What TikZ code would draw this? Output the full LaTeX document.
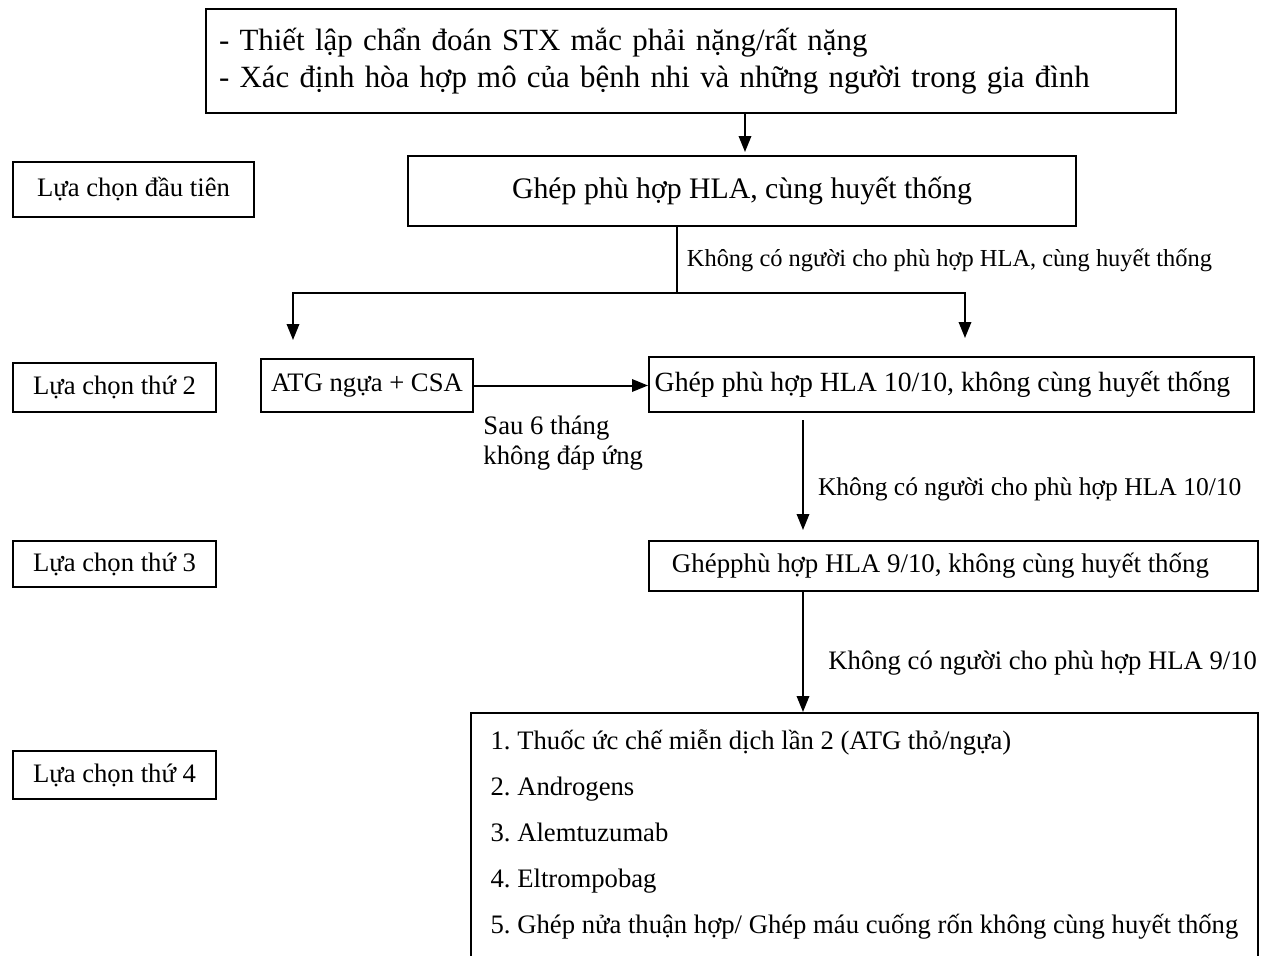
\documentclass[tikz,border=0pt]{standalone}
\usepackage{fontspec}
\setmainfont{Liberation Serif}
\usetikzlibrary{arrows.meta}

\newlength{\px}
\setlength{\px}{0.45pt}

\tikzset{
	khung/.style={draw, line width=0.9pt, inner sep=0pt, anchor=north west, align=center, font=\fontsize{12}{14}\selectfont},
	duong/.style={line width=0.9pt},
	muiten/.style={duong, -{Triangle[length=7.2pt, width=5.6pt]}},
	nhanphu/.style={inner sep=0pt, anchor=west, font=\fontsize{12}{14}\selectfont},
}

\begin{document}
\frenchspacing
\begin{tikzpicture}[x=0.45pt,y=-0.45pt]%
	\useasboundingbox (0,0) rectangle (1267,956);
	\node[khung, minimum width=970\px, minimum height=104\px, text width=944\px, inner xsep=13\px, align=left, font=\fontsize{13.9}{16.5}\selectfont] (khoi0) at (205,8) {- Thiết lập chẩn đoán STX mắc phải nặng/rất nặng\\- Xác định hòa hợp mô của bệnh nhi và những người trong gia đình};
	\node[khung, minimum width=668\px, minimum height=70\px, font=\fontsize{13.4}{16}\selectfont] (khoi1) at (407,155) {Ghép phù hợp HLA, cùng huyết thống};
	\node[khung, minimum width=241\px, minimum height=55\px] (chon1) at (12,161) {Lựa chọn đầu tiên};
	\node[khung, minimum width=212\px, minimum height=53\px] (atg) at (260,358) {ATG ngựa + CSA};
	\node[khung, minimum width=605\px, minimum height=55\px, font=\fontsize{12.5}{15}\selectfont] (khoi2) at (648,356) {Ghép phù hợp HLA 10/10, không cùng huyết thống\hspace*{18\px}};
	\node[khung, minimum width=203\px, minimum height=49\px] (chon2) at (12,362) {Lựa chọn thứ 2};
	\node[khung, minimum width=609\px, minimum height=50\px, font=\fontsize{12.1}{14}\selectfont] (khoi3) at (648,540) {Ghépphù hợp HLA 9/10, không cùng huyết thống\hspace*{26\px}};
	\node[khung, minimum width=203\px, minimum height=46\px] (chon3) at (12,540) {Lựa chọn thứ 3};
	\node[khung, minimum width=787\px, inner ysep=17\px, align=left, font=\fontsize{12}{20.7}\selectfont] (khoi4) at (470,712) {1. Thuốc ức chế miễn dịch lần 2 (ATG thỏ/ngựa)\\2. Androgens\\3. Alemtuzumab\\4. Eltrompobag\\5. Ghép nửa thuận hợp/ Ghép máu cuống rốn không cùng huyết thống\\\mbox{}};
	\node[khung, minimum width=203\px, minimum height=48\px] (chon4) at (12,750) {Lựa chọn thứ 4};
	\coordinate (x0) at (745,0);
	\coordinate (re) at (677,293);
	\coordinate (reT) at (293,293);
	\coordinate (reP) at (965,293);
	\coordinate (x2) at (803,0);
	\draw[muiten, shorten >=3\px] (khoi0.south -| x0) -- (khoi1.north -| x0);
	\draw[duong] (khoi1.south -| re) -- node[nhanphu, right=4pt, font=\fontsize{11}{13}\selectfont] (kc1) {Không có người cho phù hợp HLA, cùng huyết thống} (re);
	\draw[duong, {Triangle[length=7.2pt, width=5.6pt]}-{Triangle[length=7.2pt, width=5.6pt]}, shorten <=18\px, shorten >=18\px] (atg.north -| reT) -- (reT) -- (reP) -- (khoi2.north -| reP);
	\draw[muiten] (atg.east) -- (atg.east -| khoi2.west);
	\node[inner sep=0pt, anchor=north west, align=left, font=\fontsize{12}{13.5}\selectfont] (sau) at (483,416) {Sau 6 tháng\\không đáp ứng};
	\draw[muiten, shorten <=7\px, shorten >=10\px] (khoi2.south -| x2) -- node[nhanphu, pos=.6, right=6.3pt, font=\fontsize{11.5}{13}\selectfont] (kc2) {Không có người cho phù hợp HLA 10/10} (khoi3.north -| x2);
	\draw[muiten] (khoi3.south -| x2) -- node[nhanphu, pos=.59, right=11pt] (kc3) {Không có người cho phù hợp HLA 9/10} (khoi4.north -| x2);
\end{tikzpicture}
\end{document}
